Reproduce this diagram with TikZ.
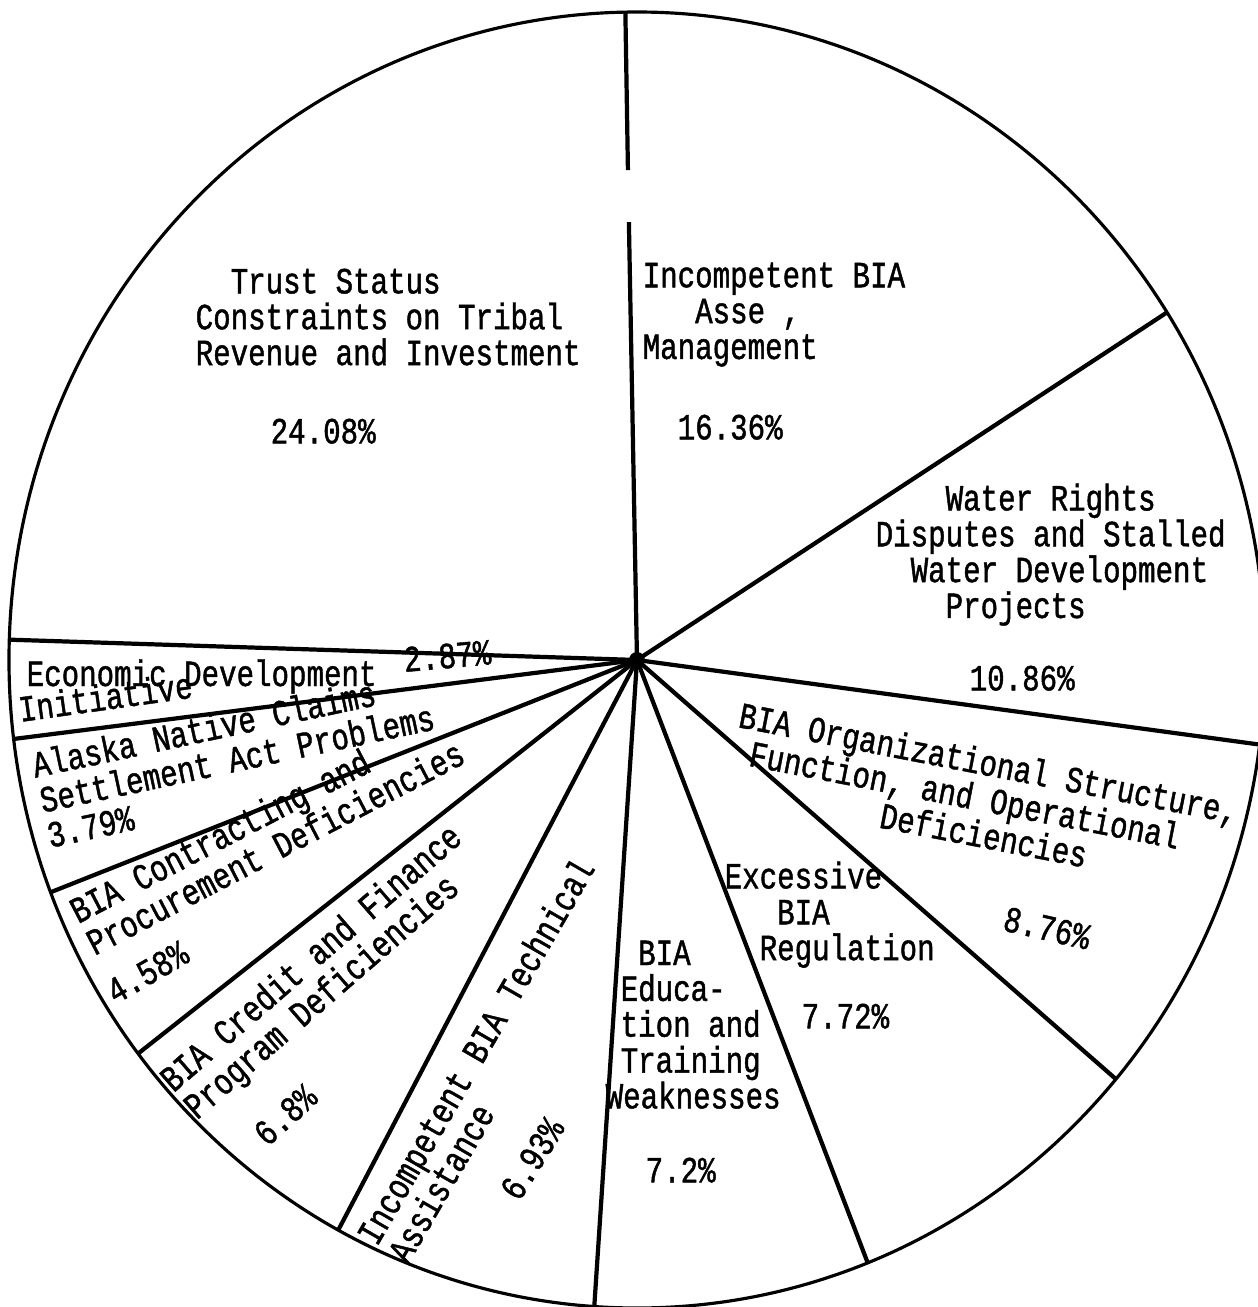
\documentclass[tikz,border=0pt]{standalone}
\usepackage{fontspec}
\usepackage{tikz}
\newfontfamily\plotfont[FakeStretch=0.79,FakeBold=1.2]{Liberation Mono}
\tikzset{
  rim/.style={line width=0.9pt},
  spoke/.style={line width=1.2pt},
  lbl/.style={font=\plotfont\fontsize{10.5}{10.2}\selectfont, inner sep=0pt, align=left},
}

\begin{document}
\begin{tikzpicture}
\useasboundingbox (-6.37,-6.47) rectangle (6.21,6.60);
\draw[rim] (0,0) ellipse (6.28 and 6.48);
% slice borders
\draw[spoke] (0,0) -- (91.06:4.38);
\draw[spoke] (91.06:4.90) -- (91.06:6.28 and 6.48);
\foreach \a in {32.44,-7.5,-40.3,-68.45,-93.9,-118.4,-142.6,-159.0,-173.0,178.2}
  \draw[spoke] (0,0) -- (\a:6.28 and 6.48);
\fill (0,0) circle (0.08);

\node[lbl, anchor=north west] (trust) at (-4.42,3.92)
  {\phantom{xx}Trust Status\\Constraints on Tribal\\Revenue and Investment};
\node[lbl, anchor=north west] (trustp) at (-3.67,2.42) {24.08\%};

\node[lbl, anchor=north west] (asset) at (0.05,3.98)
  {Incompetent BIA\\\phantom{xxx}Asse ,\\Management};
\node[lbl, anchor=north west] (assetp) at (0.40,2.46) {16.36\%};

\node[lbl, anchor=north west] (water) at (2.38,1.77)
  {\phantom{xxxx}Water Rights\\Disputes and Stalled\\\phantom{xx}Water Development\\\phantom{xxxx}Projects};
\node[lbl, anchor=north west] (waterp) at (3.32,-0.05) {10.86\%};

\node[lbl, anchor=base west] (econ) at (-6.11,-0.26) {Economic Development};
\node[lbl, anchor=base west, rotate=8] (econb) at (-6.17,-0.62) {Initiative};
\node[lbl, anchor=base west, rotate=5] (econp) at (-2.33,-0.12) {2.87\%};

\node[lbl, anchor=north west, rotate=12] (alaska) at (-6.08,-0.91)
  {Alaska Native Claims\\Settlement Act Problems\\3.79\%};

\node[lbl, anchor=north west, rotate=27.5] (contract) at (-5.72,-2.40)
  {BIA Contracting and\\Procurement Deficiencies};
\node[lbl, anchor=base west, rotate=30] (contractp) at (-5.22,-3.45) {4.58\%};

\node[lbl, anchor=north west, rotate=41] (credit) at (-4.82,-4.13)
  {BIA Credit and Finance\\Program Deficiencies};
\node[lbl, anchor=base west, rotate=42] (creditp) at (-3.70,-4.88) {6.8\%};

\node[lbl, anchor=north west, rotate=60] (tech) at (-2.84,-5.74)
  {Incompetent BIA Technical\\Assistance};
\node[lbl, anchor=base west, rotate=58] (techp) at (-1.18,-5.43) {6.93\%};

\node[lbl, anchor=north west] (educ) at (-0.17,-2.80)
  {\phantom{x}BIA\\Educa-\\tion and\\Training\\\hspace*{-0.15cm}Weaknesses};
\node[lbl, anchor=north west] (educp) at (0.08,-4.97) {7.2\%};

\node[lbl, anchor=north west] (regul) at (0.87,-2.01)
  {Excessive\\\phantom{xxx}BIA\\\phantom{xx}Regulation};
\node[lbl, anchor=north west] (regulp) at (1.64,-3.43) {7.72\%};

\node[lbl, anchor=north west, rotate=-11] (organ) at (1.05,-0.40)
  {BIA Organizational Structure,\\\phantom{x}Function, and Operational\\\phantom{xxxxxxxxx}Deficiencies};
\node[lbl, anchor=base west, rotate=-13] (organp) at (3.64,-2.70) {8.76\%};
\end{tikzpicture}
\end{document}
